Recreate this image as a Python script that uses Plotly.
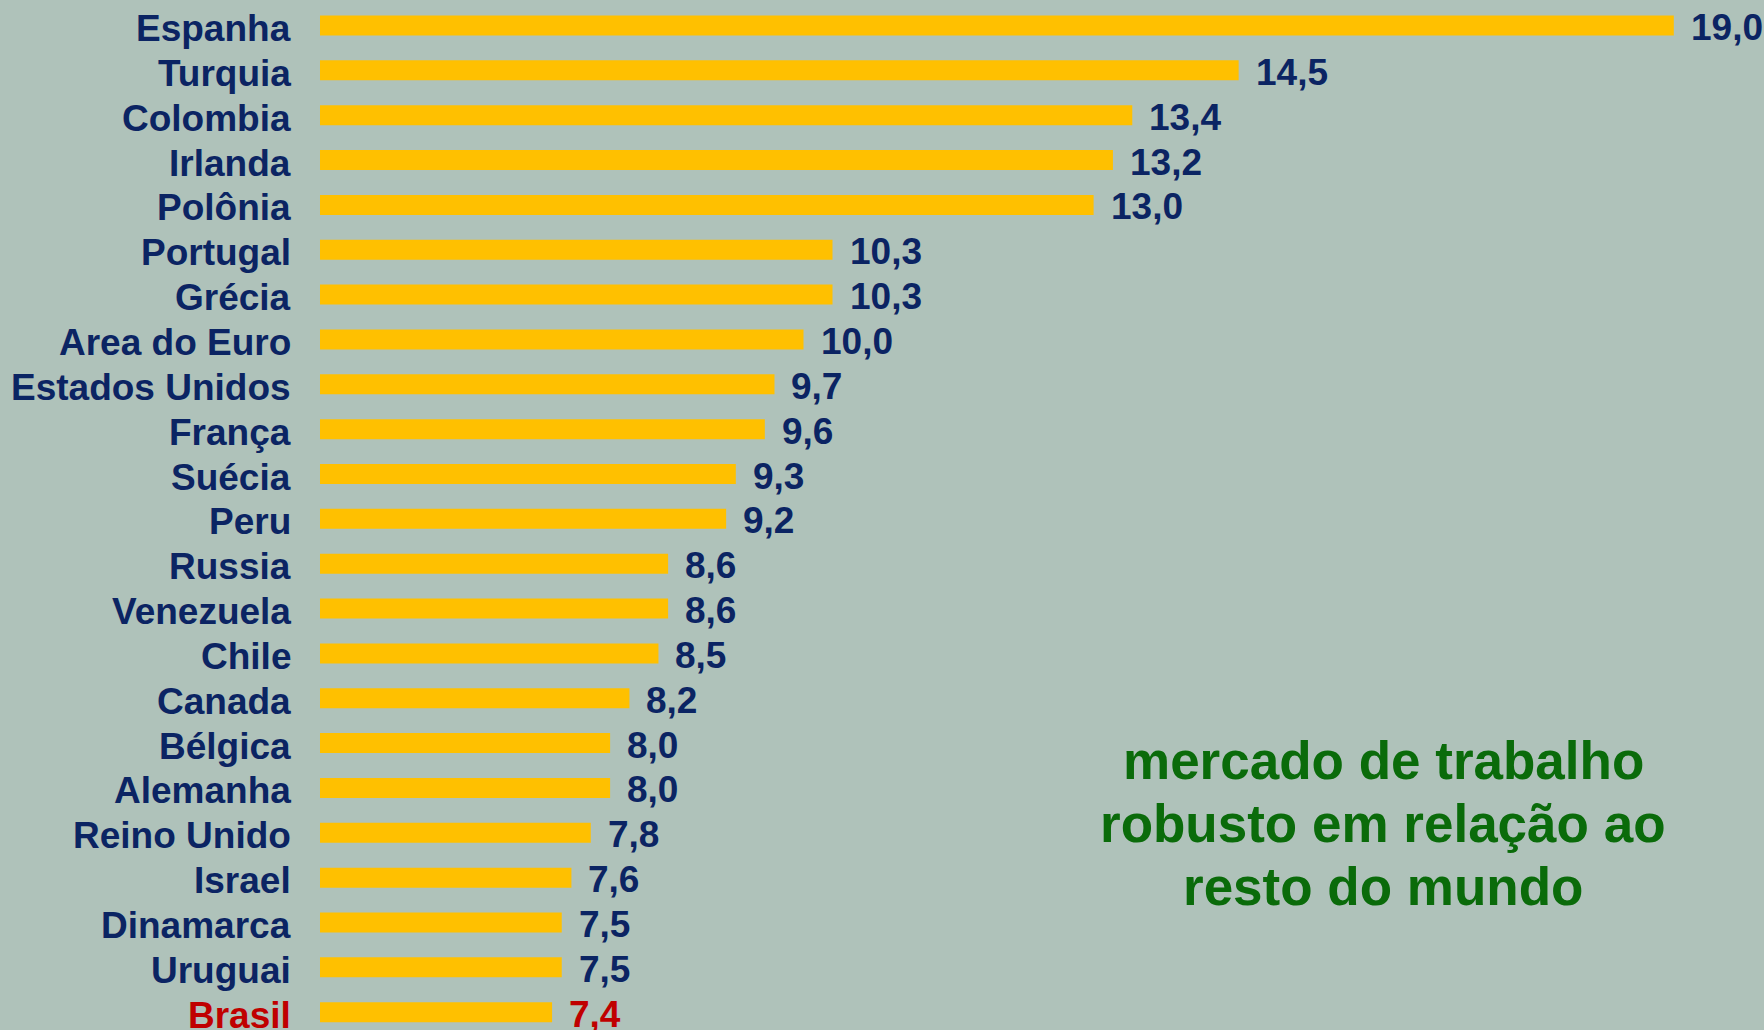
import plotly.graph_objects as go

countries = ["Espanha", "Turquia", "Colombia", "Irlanda", "Polônia", "Portugal", "Grécia",
             "Area do Euro", "Estados Unidos", "França", "Suécia", "Peru", "Russia",
             "Venezuela", "Chile", "Canada", "Bélgica", "Alemanha", "Reino Unido",
             "Israel", "Dinamarca", "Uruguai", "Brasil"]
values = [19.0, 14.5, 13.4, 13.2, 13.0, 10.3, 10.3, 10.0, 9.7, 9.6, 9.3, 9.2, 8.6,
          8.6, 8.5, 8.2, 8.0, 8.0, 7.8, 7.6, 7.5, 7.5, 7.4]
highlight = "Brasil"
note_lines = ["mercado de trabalho", "robusto em relação ao", "resto do mundo"]

NAVY = "#0B2463"
RED = "#C00000"
BAR = "#FFC000"
GREEN = "#0A6B0A"
BG = "#AFC2BA"
FONT = "Liberation Sans, Arial, sans-serif"

W, H = 1764, 1030
L = 320
x0 = 5.0
px_per_unit = 96.7
x1 = x0 + (W - L) / px_per_unit
row_px = 44.85
first_center_px = 25.5
y_top = -first_center_px / row_px
y_bot = y_top + H / row_px

fig = go.Figure()
fig.add_trace(go.Bar(
    x=values, y=countries, orientation="h",
    marker=dict(color=BAR, line=dict(width=0)),
    width=0.445, hoverinfo="skip",
))

for c, v in zip(countries, values):
    col = RED if c == highlight else NAVY
    # category label
    fig.add_annotation(
        x=0, y=c, xref="paper", yref="y", xanchor="right", yanchor="middle",
        xshift=-27, yshift=-3, showarrow=False, text=c,
        font=dict(family=FONT, size=37, weight="bold", color=col),
    )
    # value label
    fig.add_annotation(
        x=v, y=c, xref="x", yref="y", xanchor="left", yanchor="middle",
        xshift=15, yshift=-2, showarrow=False,
        text=f"{v:.1f}".replace(".", ","),
        font=dict(family=FONT, size=37, weight="bold", color=col),
    )

note_y_px = [760, 823, 886]
for line, ypx in zip(note_lines, note_y_px):
    fig.add_annotation(
        x=(1383 - L) / (W - L), y=1 - ypx / H, xref="paper", yref="paper",
        xanchor="center", yanchor="middle", showarrow=False,
        text=line, font=dict(family=FONT, size=53, weight="bold", color=GREEN),
    )

fig.update_layout(
    width=W, height=H,
    margin=dict(l=L, r=0, t=0, b=0),
    paper_bgcolor=BG, plot_bgcolor=BG,
    showlegend=False,
    xaxis=dict(range=[x0, x1], visible=False, fixedrange=True),
    yaxis=dict(
        range=[y_bot, y_top], showticklabels=False,
        showgrid=False, zeroline=False, showline=False, ticks="",
        fixedrange=True,
    ),
)
fig.write_html(
    "out.html",
    config={"displayModeBar": False},
    post_script="document.body.style.margin='0';document.body.style.background='%s';" % BG,
)
